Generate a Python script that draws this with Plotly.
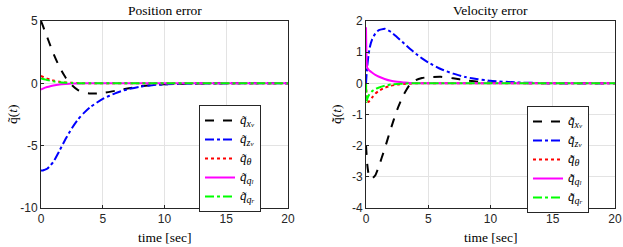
import plotly.graph_objects as go

# ---------------- data ----------------
t_pos = [0, 0.1, 0.25, 0.5, 0.75, 1, 1.5, 2, 2.5, 3, 3.5, 4, 5, 6, 7, 8, 9, 10, 12, 14, 16, 18, 20]
pos_xv = [5.0, 4.75, 4.35, 3.7, 3.05, 2.4, 1.3, 0.45, -0.15, -0.55, -0.75, -0.82, -0.78, -0.6, -0.42, -0.25, -0.14, -0.08, -0.02, 0, 0, 0, 0]
pos_zv = [-7.0, -7.0, -6.95, -6.85, -6.6, -6.3, -5.4, -4.45, -3.6, -2.9, -2.35, -1.9, -1.25, -0.8, -0.48, -0.27, -0.15, -0.08, -0.03, -0.01, 0, 0, 0]
pos_th = [0.6, 0.55, 0.48, 0.38, 0.3, 0.23, 0.13, 0.07, 0.04, 0.02, 0.01, 0, 0, 0, 0, 0, 0, 0, 0, 0, 0, 0, 0]
pos_ql = [-0.5, -0.45, -0.38, -0.3, -0.23, -0.17, -0.09, -0.05, -0.02, -0.01, 0, 0, 0, 0, 0, 0, 0, 0, 0, 0, 0, 0, 0]
pos_qr = [0.4, 0.37, 0.33, 0.27, 0.21, 0.16, 0.09, 0.05, 0.02, 0.01, 0, 0, 0, 0, 0, 0, 0, 0, 0, 0, 0, 0, 0]

t_vel = [0, 0.05, 0.1, 0.2, 0.3, 0.5, 0.75, 1, 1.5, 2, 2.5, 3, 3.5, 4, 4.5, 5, 6, 7, 8, 9, 10, 12, 14, 16, 18, 20]
vel_xv = [-2.0, -2.3, -2.6, -2.9, -3.02, -3.05, -2.95, -2.7, -2.1, -1.45, -0.85, -0.38, -0.05, 0.1, 0.17, 0.2, 0.21, 0.16, 0.1, 0.05, 0.02, 0.01, 0, 0, 0, 0]
vel_zv = [0, 0.3, 0.55, 0.9, 1.15, 1.42, 1.6, 1.7, 1.75, 1.65, 1.48, 1.3, 1.12, 0.95, 0.8, 0.67, 0.46, 0.31, 0.2, 0.13, 0.08, 0.03, 0.01, 0, 0, 0]
vel_th = [0, -0.4, -0.55, -0.6, -0.55, -0.45, -0.33, -0.25, -0.14, -0.08, -0.04, -0.02, -0.01, 0, 0, 0, 0, 0, 0, 0, 0, 0, 0, 0, 0, 0]
vel_ql = [1.8, 0.7, 0.5, 0.44, 0.4, 0.34, 0.27, 0.22, 0.14, 0.08, 0.05, 0.03, 0.01, 0, 0, 0, 0, 0, 0, 0, 0, 0, 0, 0, 0, 0]
vel_qr = [0, -0.6, -0.5, -0.4, -0.33, -0.25, -0.18, -0.14, -0.08, -0.04, -0.02, -0.01, 0, 0, 0, 0, 0, 0, 0, 0, 0, 0, 0, 0, 0, 0]

sub_main = ["x", "z", "θ", "q", "q"]
sub_minor = ["v", "v", "", "l", "r"]
pos_base = "q̃"
vel_base = "q̃̇"

x_ticks = [0, 5, 10, 15, 20]
x_ticktext = ["0", "5", "10", "15", "20"]
pos_yticks = [-10, -5, 0, 5]
pos_yticktext = ["-10", "-5", "0", "5"]
vel_yticks = [-4, -3, -2, -1, 0, 1, 2]
vel_yticktext = ["-4", "-3", "-2", "-1", "0", "1", "2"]

# ---------------- styles ----------------
colors = ["#000000", "#0000ff", "#ff0000", "#ff00ff", "#00ff00"]
dashes = ["dash", "dashdot", "dot", "solid", "dashdot"]

def legend_label(base, main, minor):
    s = f'<span style="font-size:13px"><i>{base}</i></span>'
    s += f'<sub><span style="font-size:10px"><i>{main}</i></span></sub>'
    if minor:
        s += f'<sub><span style="font-size:7px"><i>{minor}</i></span></sub>'
    return s

W, H = 623, 247
fig = go.Figure()

pos_series = [pos_xv, pos_zv, pos_th, pos_ql, pos_qr]
vel_series = [vel_xv, vel_zv, vel_th, vel_ql, vel_qr]

for i, ys in enumerate(pos_series):
    fig.add_trace(go.Scatter(x=t_pos, y=ys, mode="lines", name=legend_label(pos_base, sub_main[i], sub_minor[i]),
                             line=dict(color=colors[i], dash=dashes[i], width=2, shape="spline", smoothing=0.6),
                             xaxis="x", yaxis="y", legend="legend"))
for i, ys in enumerate(vel_series):
    fig.add_trace(go.Scatter(x=t_vel, y=ys, mode="lines", name=legend_label(vel_base, sub_main[i], sub_minor[i]),
                             line=dict(color=colors[i], dash=dashes[i], width=2, shape="spline", smoothing=0.4),
                             xaxis="x2", yaxis="y2", legend="legend2"))

def px_x(p):
    return p / W

def px_y(p):
    return 1 - p / H

axis_common = dict(showline=True, linecolor="#262626", linewidth=1, mirror=True,
                   ticks="inside", ticklen=3, tickcolor="#262626", automargin=False,
                   showgrid=True, gridcolor="#e3e3e3", gridwidth=1, zeroline=False,
                   tickfont=dict(family="Liberation Sans, Arial, sans-serif", size=12, color="#262626"))

legend_common = dict(xanchor="left", yanchor="top",
                     bordercolor="#262626", borderwidth=1, bgcolor="white",
                     font=dict(family="Liberation Serif, DejaVu Serif, serif", size=10, color="#000"),
                     tracegroupgap=0, itemwidth=30)

fig.update_layout(
    width=W, height=H,
    margin=dict(l=0, r=0, t=0, b=0, autoexpand=False),
    paper_bgcolor="white", plot_bgcolor="white",
    xaxis=dict(domain=[px_x(41), px_x(288)], range=[0, 20], tickvals=x_ticks, ticktext=x_ticktext,
               anchor="y", **axis_common),
    yaxis=dict(domain=[px_y(208), px_y(21)], range=[-10, 5], tickvals=pos_yticks, ticktext=pos_yticktext,
               anchor="x", **axis_common),
    xaxis2=dict(domain=[px_x(366), px_x(615)], range=[0, 20], tickvals=x_ticks, ticktext=x_ticktext,
                anchor="y2", **axis_common),
    yaxis2=dict(domain=[px_y(208), px_y(21)], range=[-4, 2], tickvals=vel_yticks, ticktext=vel_yticktext,
                anchor="x2", **axis_common),
    legend=dict(x=px_x(199), y=px_y(105), **legend_common),
    legend2=dict(x=px_x(527), y=px_y(106), **legend_common),
)

serif = dict(family="Liberation Serif, DejaVu Serif, serif", size=13.5, color="#000")
annots = [
    dict(text="Position error", x=px_x(164.5), y=px_y(10)),
    dict(text="Velocity error", x=px_x(490.5), y=px_y(10)),
    dict(text="time [sec]", x=px_x(164.5), y=px_y(237)),
    dict(text="time [sec]", x=px_x(490.5), y=px_y(237)),
]
for a in annots:
    fig.add_annotation(text=a["text"], x=a["x"], y=a["y"], xref="paper", yref="paper",
                       xanchor="center", yanchor="middle", showarrow=False, font=serif)
fig.add_annotation(text="q̃(<i>t</i>)", x=px_x(12), y=px_y(114), xref="paper", yref="paper",
                   xanchor="center", yanchor="middle", showarrow=False, textangle=-90, font=serif)
fig.add_annotation(text="q̃̇(<i>t</i>)", x=px_x(336), y=px_y(114), xref="paper", yref="paper",
                   xanchor="center", yanchor="middle", showarrow=False, textangle=-90, font=serif)

fig.write_html("out.html", config={"displayModeBar": False},
               post_script="document.body.style.margin='0';document.body.style.overflow='hidden';")
